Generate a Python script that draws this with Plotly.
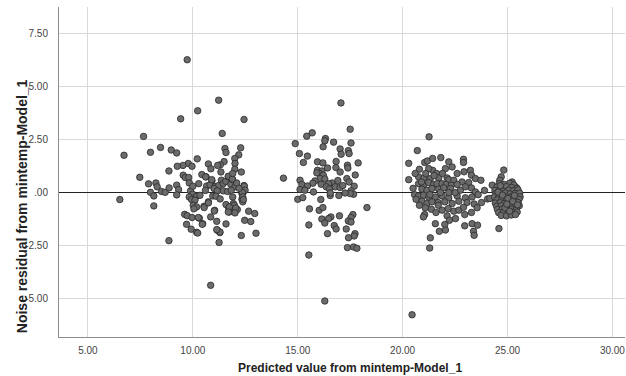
import plotly.graph_objects as go

# ---- data ----
c1_x = [9.73, 11.23, 10.23, 9.42, 12.44, 7.65, 11.40, 6.72, 7.98, 8.46, 8.97, 9.23, 11.53, 11.58, 12.28, 12.19,
        12.00, 12.01, 12.00, 12.31, 11.49, 11.31, 11.18, 10.74, 10.86, 10.21, 9.78, 9.96, 9.53, 9.26, 8.86, 7.47,
        6.52, 7.89, 8.24, 7.98, 8.14, 8.14, 8.30, 8.51, 8.68, 8.87, 9.23, 9.32, 9.23, 9.54, 9.64, 9.80, 9.83,
        10.28, 10.43, 10.63, 10.91, 10.66, 10.82, 11.06, 11.23, 11.36, 11.45, 11.57, 11.69, 11.81, 11.90, 12.01,
        12.09, 12.44, 12.41, 12.34, 11.01, 11.17, 11.45, 11.66, 11.83, 9.89, 9.99, 10.18, 10.34, 9.83, 9.94,
        10.10, 10.02, 10.18, 10.05, 10.53, 10.74, 10.95, 11.10, 11.04, 11.58, 11.71, 11.74, 11.90, 11.93, 12.01,
        12.12, 12.34, 12.38, 12.66, 12.95, 12.47, 12.76, 9.61, 9.73, 9.96, 10.31, 9.70, 9.92, 10.18, 10.47,
        10.85, 11.14, 11.58, 11.17, 11.29, 11.25, 12.31, 13.01, 8.86, 10.85,
        11.34, 10.61, 10.90, 11.69, 11.88, 12.45, 12.49, 12.36, 12.38, 12.41, 11.98, 11.74, 12.04, 11.69, 12.01,
        11.29, 11.14, 11.02, 10.54, 10.74, 10.26, 10.45, 10.23, 10.00, 10.60, 11.30, 11.90, 12.20]
c1_y = [6.27, 4.36, 3.86, 3.48, 3.45, 2.65, 2.79, 1.76, 1.90, 2.13, 2.01, 1.87, 2.08, 1.89, 2.11, 1.78,
        1.61, 1.37, 1.10, 0.97, 1.46, 1.31, 1.28, 1.35, 1.12, 1.59, 1.37, 1.24, 1.28, 1.24, 1.02, 0.72,
        -0.33, 0.41, 0.45, 0.01, -0.16, -0.63, 0.27, 0.05, 0.01, 0.22, 0.35, 0.14, -0.11, 0.82, 0.71, 0.71, 0.45,
        0.42, 0.85, 0.74, 0.55, 0.31, 0.36, 0.28, 0.33, 0.58, 0.42, 0.53, 0.74, 0.39, 0.61, 0.27,
        0.45, 0.33, 0.03, -0.05, 0.19, 0.08, 0.08, 0.05, 0.11, 0.08, -0.08, -0.17, -0.13, -0.21, -0.33,
        -0.36, -0.60, -0.68, -0.77, -0.65, -0.44, -0.16, -0.17, -0.84, -0.57, -0.74, -0.92, -0.21, -0.52, -0.88,
        -0.80, -0.32, -0.44, -0.88, -0.99, -1.31, -1.37, -1.03, -1.09, -1.18, -1.21, -1.50, -1.73, -1.88, -1.47,
        -1.15, -1.36, -1.48, -1.78, -1.89, -2.36, -2.03, -1.92, -2.27, -4.38,
        0.97, 0.74, 0.61, 0.77, 0.64, 0.30, 0.11, 0.01, -0.21, -0.33, -0.60, -0.68, -0.73, -0.92, -0.96,
        -1.86, -1.75, -0.87, -0.71, -0.49, -1.18, -1.50, -1.91, 0.30, 0.10, -0.30, 0.90, 0.20]

c2_x = [17.06, 17.50, 15.69, 15.43, 16.32, 16.29, 14.88, 16.71, 17.54, 16.21, 17.02, 17.41, 15.08, 15.46, 17.07,
        17.45, 15.27, 15.94, 16.20, 16.83, 17.88, 17.37, 17.39, 16.82, 16.42, 15.94, 16.15, 16.04, 15.91, 17.02,
        17.74, 16.22, 14.32, 15.11, 16.07, 16.29, 15.82, 15.72, 17.34, 16.91, 16.64, 16.47, 16.12, 16.36, 15.20,
        15.46, 15.11, 15.34, 15.75, 16.51, 16.79, 17.02, 17.15, 17.45, 17.69, 17.54, 17.66, 17.50, 17.26, 16.96,
        16.55, 16.55, 15.00, 15.24, 16.10, 18.30, 15.56, 16.02, 16.20, 16.99, 16.58, 17.63, 17.54, 16.15, 16.47,
        17.41, 17.54, 16.29, 16.74, 16.83, 15.53, 17.31, 16.42, 17.73, 17.69, 17.42, 17.37, 17.66, 17.82, 15.53,
        16.29]
c2_y = [4.23, 2.99, 2.82, 2.66, 2.55, 2.44, 2.31, 2.38, 2.34, 2.16, 2.06, 1.98, 1.84, 1.72, 1.81,
        1.84, 1.42, 1.45, 1.40, 1.47, 1.40, 1.29, 1.16, 1.18, 1.16, 1.05, 1.02, 0.90, 0.93, 0.97,
        0.83, 0.82, 0.68, 0.58, 0.66, 0.64, 0.55, 0.44, 0.66, 0.57, 0.45, 0.42, 0.39, 0.27, 0.38,
        0.31, 0.14, 0.11, 0.03, 0.17, 0.27, 0.24, 0.33, 0.50, 0.30, 0.08, -0.08, -0.05, -0.02, -0.14,
        -0.14, -0.02, -0.32, -0.24, -0.33, -0.71, -0.77, -0.84, -0.71, -1.10, -1.15, -1.04, -1.18, -1.25, -1.23,
        -1.34, -1.39, -1.44, -1.56, -1.72, -1.53, -1.72, -1.94, -1.94, -2.05, -2.13, -2.60, -2.57, -2.63, -2.95,
        -5.12]

c3_x = [21.26, 20.70, 20.29, 20.29, 20.80, 21.05, 21.18, 21.43, 21.82, 22.20, 22.04, 22.36, 22.90, 22.90, 22.93,
        23.23, 23.28, 23.47, 23.73, 21.43, 21.24, 21.62, 20.76, 21.02, 21.32, 21.72, 22.12, 22.20, 22.44, 22.83,
        23.15, 20.76, 21.00, 21.24, 21.48, 21.64, 21.88, 22.07, 22.32, 22.60, 22.99, 23.28, 20.92, 21.16, 21.40,
        21.72, 21.96, 22.28, 22.75, 23.47, 20.57, 20.76, 21.00, 21.24, 21.56, 21.88, 22.20, 22.60, 22.99, 23.31,
        20.64, 20.92, 21.16, 21.40, 21.69, 22.01, 22.36, 22.68, 23.07, 23.41, 23.76, 21.08, 21.37, 21.59, 21.88,
        22.17, 22.44, 22.68, 22.96, 23.28, 23.55, 21.05, 20.99, 22.12, 22.23, 22.52, 21.56, 22.01, 22.96, 23.31,
        23.57, 21.75, 22.04, 23.38, 23.41, 21.32, 21.29, 20.45,
        20.50, 20.60, 20.90, 21.10, 21.50, 21.90, 22.20, 22.50, 21.70, 22.90, 21.30, 20.80, 22.60, 23.60, 21.80,
        23.90, 24.05]
c3_y = [2.63, 1.98, 1.38, 0.61, 1.10, 1.42, 1.49, 1.61, 1.65, 1.45, 1.13, 1.21, 1.57, 1.42, 0.98,
        1.05, 0.82, 0.66, 0.58, 1.05, 1.13, 0.90, 0.74, 0.69, 0.66, 0.69, 0.69, 0.61, 0.58, 0.50,
        0.47, 0.42, 0.35, 0.47, 0.38, 0.42, 0.42, 0.38, 0.35, 0.38, 0.27, 0.22, 0.16, 0.11, 0.19,
        0.16, 0.22, 0.19, 0.11, 0.03, -0.10, -0.16, -0.13, -0.21, -0.21, -0.16, -0.25, -0.16, -0.25, -0.21,
        -0.32, -0.41, -0.52, -0.44, -0.47, -0.44, -0.52, -0.41, -0.47, -0.54, -0.47, -0.72, -0.79, -0.94, -0.83,
        -0.76, -0.88, -0.83, -1.04, -0.94, -0.72, -1.04, -1.15, -1.10, -1.31, -1.23, -1.47, -1.51, -1.57, -1.47,
        -1.54, -1.83, -1.77, -1.83, -2.02, -2.14, -2.62, -5.77,
        0.20, 0.90, 0.50, 0.90, 0.80, 0.90, 0.00, 0.00, -0.60, -0.70, -0.10, -0.60, 0.90, -0.10, 0.00,
        0.10, -0.30]

c4_x = [24.82, 24.70, 24.63, 24.27, 24.16, 24.59, 25.22, 25.38,
        24.60, 24.85, 25.10, 25.30,
        24.50, 24.70, 24.95, 25.20, 25.45,
        24.40, 24.62, 24.80, 25.05, 25.28, 25.50,
        24.45, 24.68, 24.90, 25.12, 25.35, 25.58,
        24.38, 24.58, 24.78, 25.00, 25.22, 25.42, 25.60,
        24.50, 24.72, 24.95, 25.15, 25.37, 25.55,
        24.42, 24.65, 24.86, 25.08, 25.30, 25.50,
        24.48, 24.70, 24.92, 25.14, 25.36, 25.56,
        24.52, 24.75, 24.98, 25.20, 25.42,
        24.58, 24.80, 25.03, 25.26, 25.46,
        24.70, 24.95, 25.18, 25.38,
        24.55, 24.76, 25.02, 25.25, 25.48, 24.88, 25.10, 25.33, 24.66, 24.97]
c4_y = [1.06, 0.74, 0.58, 0.35, -0.28, -1.70, 0.50, 0.27,
        0.42, 0.38, 0.44, 0.36,
        0.26, 0.22, 0.28, 0.24, 0.20,
        0.10, 0.12, 0.06, 0.11, 0.08, 0.13,
        -0.04, -0.06, -0.02, -0.07, -0.05, -0.03,
        -0.20, -0.22, -0.18, -0.21, -0.19, -0.23, -0.20,
        -0.35, -0.33, -0.37, -0.34, -0.36, -0.32,
        -0.50, -0.48, -0.52, -0.49, -0.51, -0.47,
        -0.65, -0.63, -0.67, -0.64, -0.66, -0.62,
        -0.80, -0.78, -0.82, -0.79, -0.81,
        -0.95, -0.93, -0.97, -0.94, -0.92,
        -1.08, -1.10, -1.06, -1.04,
        0.02, -0.12, -0.28, -0.42, -0.58, -0.72, -0.88, -0.14, 0.32, -0.55]

x_ticks = [5, 10, 15, 20, 25, 30]
x_tick_labels = ["5.00", "10.00", "15.00", "20.00", "25.00", "30.00"]
y_ticks = [-5, -2.5, 0, 2.5, 5, 7.5]
y_tick_labels = ["-5.00", "-2.50", ".00", "2.50", "5.00", "7.50"]

all_x = c1_x + c2_x + c3_x + c4_x
all_y = c1_y + c2_y + c3_y + c4_y

fig = go.Figure()
fig.add_trace(go.Scatter(
    x=all_x, y=all_y, mode="markers",
    marker=dict(size=6.5, color="#6b6b6b", line=dict(color="#2a2a2a", width=0.8)),
    showlegend=False, hoverinfo="skip"))

fig.update_layout(
    width=626, height=376,
    margin=dict(l=59, r=1, t=7, b=39),
    paper_bgcolor="white", plot_bgcolor="white",
    font=dict(family="Liberation Sans, Arial, sans-serif", color="#333333"),
    xaxis=dict(range=[3.62, 30.6], tickvals=x_ticks, ticktext=x_tick_labels,
               showgrid=True, gridcolor="#d9d9d9", gridwidth=1,
               showline=True, linecolor="#8c8c8c", linewidth=1,
               zeroline=False, ticks="", tickfont=dict(size=10, color="#444444"),
               ticklabelstandoff=4),
    yaxis=dict(range=[-6.82, 8.76], tickvals=y_ticks, ticktext=y_tick_labels,
               showgrid=True, gridcolor="#d9d9d9", gridwidth=1,
               showline=True, linecolor="#8c8c8c", linewidth=1,
               zeroline=True, zerolinecolor="#222222", zerolinewidth=1,
               ticks="", tickfont=dict(size=10, color="#444444"),
               ticklabelstandoff=8),
    annotations=[
        dict(text="<b>Predicted value from mintemp-Model_1</b>", xref="paper", yref="paper",
             x=(349.5 - 59) / 566, y=(337 - 368) / 330, xanchor="center", yanchor="middle",
             showarrow=False, font=dict(size=12, color="#222222")),
        dict(text="<b>Noise residual from mintemp-Model_1</b>", xref="paper", yref="paper",
             x=(21.5 - 59) / 566, y=(337 - 206.7) / 330, xanchor="center", yanchor="middle",
             textangle=-90, showarrow=False, font=dict(size=14, color="#222222")),
    ],
)

fig.write_html("out.html", config={"displayModeBar": False},
               post_script="document.body.style.margin='0';document.body.style.padding='0';")
